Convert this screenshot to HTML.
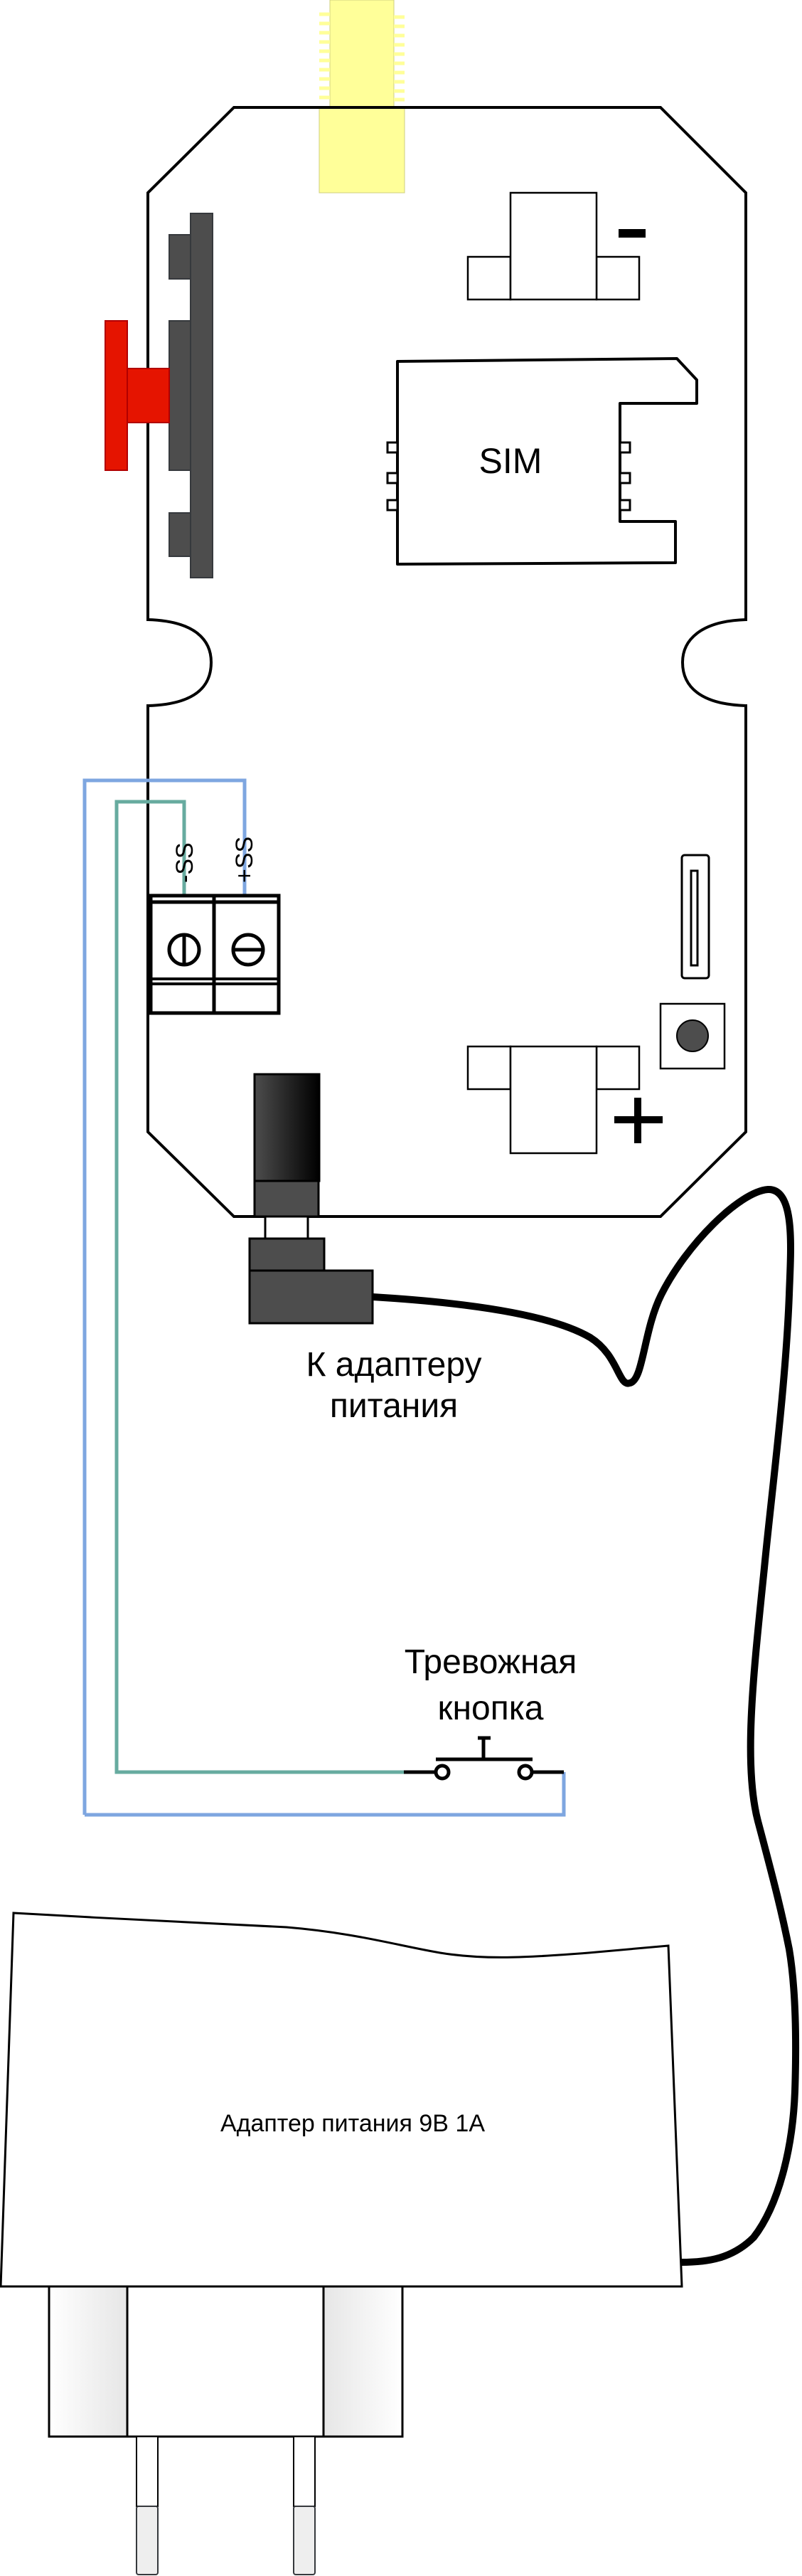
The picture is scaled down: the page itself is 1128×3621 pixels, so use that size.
<!DOCTYPE html>
<html><head><meta charset="utf-8"><style>html,body{margin:0;padding:0;background:#fff}svg{display:block}</style></head>
<body>
<svg width="1128" height="3621" viewBox="0 0 1128 3621" xmlns="http://www.w3.org/2000/svg" font-family="'Liberation Sans', sans-serif">
<defs>
<linearGradient id="jg" x1="0" x2="1" y1="0" y2="0"><stop offset="0" stop-color="#4d4d4d"/><stop offset="1" stop-color="#000"/></linearGradient>
<linearGradient id="pl" x1="0" x2="1"><stop offset="0" stop-color="#fff"/><stop offset="1" stop-color="#e6e6e6"/></linearGradient>
<linearGradient id="pr" x1="0" x2="1"><stop offset="0" stop-color="#e6e6e6"/><stop offset="1" stop-color="#fff"/></linearGradient>
</defs>
<g fill="#ffff99" stroke="#cfcf80" stroke-width="1">
<rect x="464" y="0" width="90" height="151"/>
<rect x="449" y="151" width="120" height="120"/>
</g>
<g stroke="#ffff99" stroke-width="5">
<path d="M449,20h15M449,33h15M449,46h15M449,59h15M449,72h15M449,85h15M449,98h15M449,111h15M449,124h15M449,137h15"/>
<path d="M554,24h15M554,37h15M554,50h15M554,63h15M554,76h15M554,89h15M554,102h15M554,115h15M554,128h15M554,140h15"/>
</g>
<path d="M329,151 L929,151 L1049,271 L1049,871 C985,873 960,900 960,931 C960,965 985,990 1049,992 L1049,1591 L929,1710 L329,1710 L208,1591 L208,992 C275,990 297,965 297,931 C297,900 275,873 208,871 L208,271 Z" fill="none" stroke="#000" stroke-width="4"/>
<g fill="#4d4d4d" stroke="#36393d" stroke-width="2">
<rect x="268" y="300" width="31" height="512"/>
<rect x="238" y="330" width="30" height="62"/>
<rect x="238" y="451" width="30" height="210"/>
<rect x="238" y="721" width="30" height="61"/>
</g>
<g fill="#e51400" stroke="#b20000" stroke-width="2">
<rect x="148" y="451" width="31" height="210"/>
<rect x="179" y="518" width="59" height="76"/>
</g>
<g fill="#fff" stroke="#000" stroke-width="2.5">
<rect x="658" y="361" width="60" height="60"/>
<rect x="839" y="361" width="60" height="60"/>
<rect x="718" y="271" width="121" height="150"/>
</g>
<rect x="870" y="322" width="38" height="12" fill="#000"/>
<path d="M559,508 L952,504 L980,534 L980,567 L872,567 L872,733 L950,733 L950,791 L559,793 Z" fill="none" stroke="#000" stroke-width="4" stroke-linejoin="round"/>
<g fill="#fff" stroke="#000" stroke-width="3">
<rect x="545" y="622" width="14" height="14"/><rect x="545" y="665" width="14" height="14"/><rect x="545" y="703" width="14" height="14"/>
<rect x="872" y="622" width="14" height="14"/><rect x="872" y="665" width="14" height="14"/><rect x="872" y="703" width="14" height="14"/>
</g>
<text x="718" y="665" font-size="50" text-anchor="middle">SIM</text>
<polyline points="119,2551 119,1097 344,1097 344,1257" fill="none" stroke="#7ea6e0" stroke-width="5"/>
<polyline points="793,2491 793,2551 119,2551" fill="none" stroke="#7ea6e0" stroke-width="5"/>
<polyline points="568,2491 164,2491 164,1127 259,1127 259,1257" fill="none" stroke="#67ab9f" stroke-width="5"/>
<text transform="translate(271,1241) rotate(-90)" font-size="34">-SS</text>
<text transform="translate(355,1241) rotate(-90)" font-size="34">+SS</text>
<g fill="none" stroke="#000">
<rect x="212" y="1259" width="180" height="165" stroke-width="5"/>
<line x1="301" y1="1259" x2="301" y2="1424" stroke-width="5"/>
<line x1="212" y1="1268" x2="392" y2="1268" stroke-width="5"/>
<line x1="212" y1="1376" x2="392" y2="1376" stroke-width="4"/>
<line x1="212" y1="1383" x2="392" y2="1383" stroke-width="4"/>
<circle cx="259" cy="1335" r="21" stroke-width="5"/>
<line x1="259" y1="1314" x2="259" y2="1356" stroke-width="5"/>
<circle cx="349" cy="1335" r="21" stroke-width="5"/>
<line x1="328" y1="1335" x2="370" y2="1335" stroke-width="5"/>
</g>
<rect x="959" y="1202" width="38" height="173" rx="4" fill="none" stroke="#000" stroke-width="3"/>
<rect x="972" y="1224" width="9" height="133" fill="none" stroke="#000" stroke-width="3"/>
<rect x="929" y="1411" width="90" height="91" fill="none" stroke="#000" stroke-width="2.5"/>
<circle cx="974" cy="1456" r="22" fill="#4d4d4d" stroke="#000" stroke-width="2"/>
<g fill="#fff" stroke="#000" stroke-width="2.5">
<rect x="658" y="1471" width="60" height="60"/>
<rect x="839" y="1471" width="60" height="60"/>
<rect x="718" y="1471" width="121" height="150"/>
</g>
<path d="M864,1574h68M897,1543v64" stroke="#000" stroke-width="10"/>
<rect x="358" y="1510" width="91" height="150" fill="url(#jg)" stroke="#000" stroke-width="3"/>
<rect x="358" y="1660" width="90" height="50" fill="#4d4d4d" stroke="#000" stroke-width="3"/>
<rect x="373" y="1710" width="60" height="31" fill="#fff" stroke="#000" stroke-width="3"/>
<rect x="351" y="1741" width="105" height="45" fill="#4d4d4d" stroke="#000" stroke-width="3"/>
<rect x="351" y="1786" width="173" height="74" fill="#4d4d4d" stroke="#000" stroke-width="3"/>
<path d="M524,1823 C640,1830 770,1845 830,1880 C870,1905 870,1950 886,1944 C905,1940 905,1870 930,1820 C965,1750 1040,1675 1080,1672 C1120,1670 1112,1760 1110,1820 C1105,1950 1085,2100 1075,2204 C1060,2350 1045,2480 1066,2560 C1090,2650 1100,2690 1110,2740 C1120,2800 1120,2880 1118,2940 C1115,3020 1095,3100 1060,3145 C1030,3175 995,3180 958,3180" fill="none" stroke="#000" stroke-width="10"/>
<text x="554" y="1934" font-size="48" text-anchor="middle">К адаптеру</text>
<text x="554" y="1992" font-size="48" text-anchor="middle">питания</text>
<text x="690" y="2352" font-size="48" text-anchor="middle">Тревожная</text>
<text x="690" y="2417" font-size="48" text-anchor="middle">кнопка</text>
<g stroke="#000" stroke-width="5" fill="#fff">
<line x1="568" y1="2491" x2="612" y2="2491"/>
<line x1="749" y1="2491" x2="793" y2="2491"/>
<line x1="613" y1="2473" x2="749" y2="2473"/>
<line x1="680" y1="2473" x2="680" y2="2443"/>
<line x1="672" y1="2443" x2="690" y2="2443"/>
<circle cx="622" cy="2491" r="9"/>
<circle cx="739" cy="2491" r="9"/>
</g>
<path d="M19,2689 C150,2697 300,2703 403,2709 C500,2717 560,2735 619,2745 C680,2755 740,2752 828,2745 L940,2735 L959,3214 L1,3214 Z" fill="#fff" stroke="#000" stroke-width="3"/>
<text x="496" y="2996" font-size="34" text-anchor="middle">Адаптер питания 9В 1А</text>
<rect x="69" y="3214" width="110" height="211" fill="url(#pl)" stroke="#000" stroke-width="3"/>
<rect x="179" y="3214" width="276" height="211" fill="#fff" stroke="#000" stroke-width="3"/>
<rect x="455" y="3214" width="111" height="211" fill="url(#pr)" stroke="#000" stroke-width="3"/>
<rect x="192" y="3425" width="30" height="98" fill="#fff" stroke="#000" stroke-width="2"/>
<rect x="413" y="3425" width="30" height="98" fill="#fff" stroke="#000" stroke-width="2"/>
<rect x="192" y="3523" width="30" height="96" rx="3" fill="#eeeeee" stroke="#36393d" stroke-width="2"/>
<rect x="413" y="3523" width="30" height="96" rx="3" fill="#eeeeee" stroke="#36393d" stroke-width="2"/>
</svg>
</body></html>
